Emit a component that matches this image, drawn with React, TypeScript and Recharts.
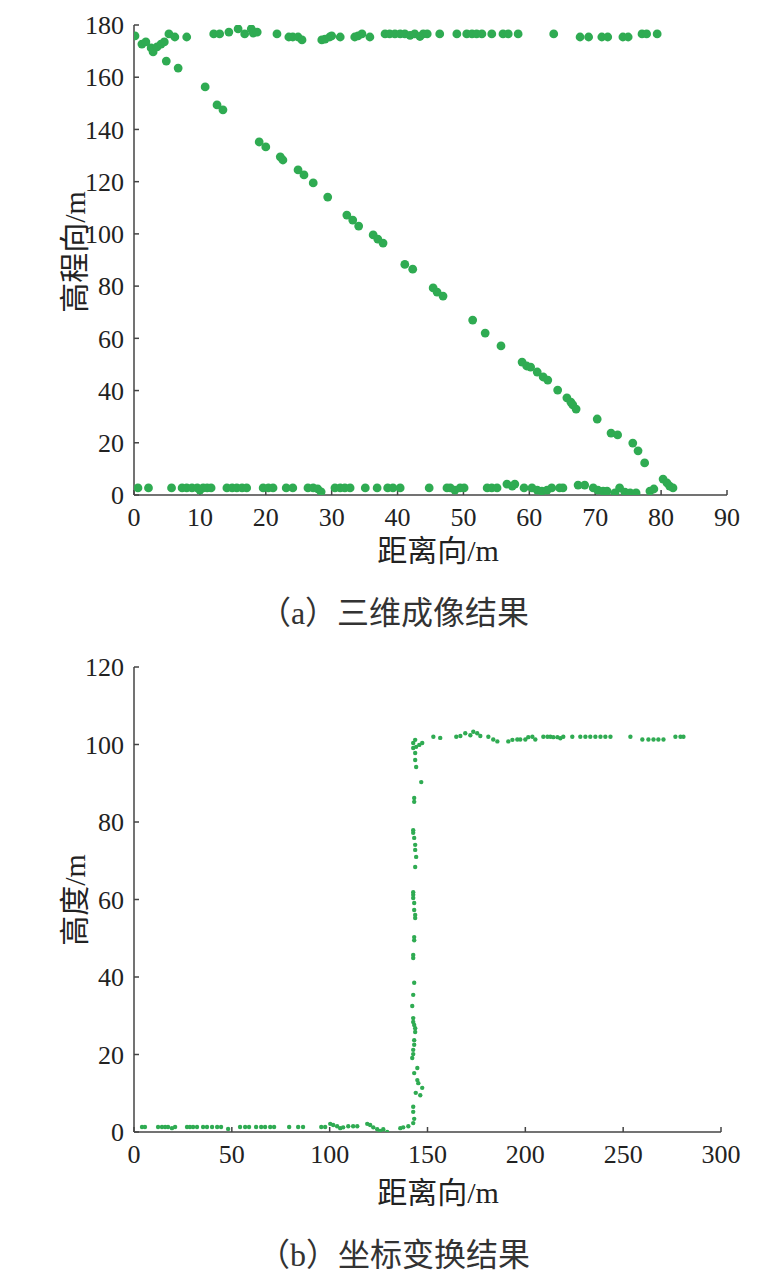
import { ScatterChart, Scatter, XAxis, YAxis } from 'recharts';

// (a) 3D imaging result: [range m, elevation m]
const roofA: [number, number][] = [
  [0.15, 175.8], [1.2, 172.7], [1.8, 173.5], [2.6, 171.2], [2.9, 169.7], [3.5, 171.6], [4.1, 172.7], [4.6, 173.5],
  [5.3, 176.6], [6.2, 175.4], [8.0, 175.4], [12.1, 176.6], [13.0, 176.6], [14.4, 177.3], [15.8, 178.5], [16.8, 176.6],
  [17.8, 178.5], [18.1, 176.9], [18.7, 177.3], [21.7, 176.6], [23.5, 175.4], [24.1, 175.4], [24.9, 175.4], [25.5, 174.3],
  [28.5, 174.3], [29.0, 174.6], [29.7, 175.4], [30.0, 175.8], [31.3, 175.4], [33.5, 175.4], [34.0, 175.8], [34.6, 176.6],
  [35.8, 175.4], [38.1, 176.6], [38.8, 176.6], [39.6, 176.6], [40.4, 176.6], [41.1, 176.6], [41.9, 176.0], [42.6, 176.6],
  [43.4, 175.6], [43.9, 176.6], [44.5, 176.6], [46.4, 176.6], [49.0, 176.6], [50.5, 176.6], [51.3, 176.6], [52.0, 176.6],
  [52.8, 176.6], [54.3, 176.6], [56.0, 176.6], [56.8, 176.6], [58.3, 176.6], [63.7, 176.6], [67.7, 175.4], [69.0, 175.4],
  [71.0, 175.4], [71.9, 175.4], [74.2, 175.4], [75.0, 175.4], [77.1, 176.6], [77.8, 176.6], [79.4, 176.6],
];
const slopeA: [number, number][] = [
  [4.9, 166.2], [6.7, 163.5], [10.8, 156.3], [12.6, 149.4], [13.5, 147.5], [19.0, 135.2], [20.0, 133.3], [22.2, 129.5],
  [22.6, 128.3], [24.9, 124.5], [25.8, 122.6], [27.2, 119.5], [29.4, 114.1], [32.3, 107.2], [33.2, 105.3], [34.1, 103.0],
  [36.3, 99.6], [37.0, 98.0], [37.8, 96.5], [41.1, 88.3], [42.3, 86.5], [45.4, 79.3], [46.0, 77.7], [46.9, 76.2],
  [51.4, 67.0], [53.3, 62.0], [55.7, 57.1], [58.9, 50.9], [59.6, 49.4], [60.2, 49.0], [61.2, 47.1], [62.1, 45.2],
  [62.8, 44.0], [64.3, 40.2], [65.7, 37.2], [66.3, 35.6], [66.6, 34.5], [67.1, 32.9], [70.3, 29.1], [72.4, 23.7],
  [73.4, 23.0], [75.7, 19.9], [76.5, 16.9], [77.5, 12.3], [80.3, 6.1], [80.9, 4.6],
];
const groundA: [number, number][] = [
  [0.6, 2.7], [2.2, 2.7], [5.7, 2.7], [7.3, 2.7], [8.0, 2.7], [8.8, 2.7], [9.6, 2.7], [10.0, 1.9], [10.5, 2.7], [11.1, 2.7],
  [11.7, 2.7], [14.1, 2.7], [14.9, 2.7], [15.6, 2.7], [16.4, 2.7], [17.1, 2.7], [19.6, 2.7], [20.4, 2.7], [21.1, 2.7],
  [23.1, 2.7], [24.1, 2.7], [26.4, 2.7], [27.2, 2.7], [27.9, 2.3], [28.4, 1.2], [30.5, 2.7], [31.3, 2.7], [32.0, 2.7],
  [32.8, 2.7], [35.1, 2.7], [36.9, 2.7], [38.5, 2.7], [39.3, 2.7], [40.4, 2.7], [44.8, 2.7], [47.5, 2.7], [48.0, 2.7],
  [48.7, 1.9], [49.5, 2.7], [50.1, 2.7], [53.6, 2.7], [54.3, 2.7], [55.1, 2.7], [56.6, 4.2], [57.4, 3.4], [57.8, 4.2],
  [59.2, 2.7], [60.4, 2.7], [61.2, 1.9], [61.9, 1.5], [62.7, 1.9], [63.4, 2.7], [64.6, 2.7], [65.1, 2.7], [67.4, 3.8],
  [68.4, 3.8], [69.7, 2.7], [70.4, 1.9], [71.2, 1.5], [71.8, 1.5], [73.0, 0.8], [73.7, 2.7], [74.5, 1.1], [75.3, 0.8],
  [76.2, 0.8], [78.3, 1.5], [78.9, 2.3], [81.3, 3.4], [81.8, 2.7],
];

// (b) after coordinate transform: [range m, height m]
const groundB: [number, number][] = [
  [4.1, 1.3], [5.6, 1.3], [12.3, 1.3], [14.3, 1.3], [15.9, 1.3], [17.4, 1.3], [19.4, 1.0], [21.0, 1.3], [27.1, 1.3],
  [28.6, 1.3], [30.2, 1.3], [32.2, 1.3], [35.3, 1.3], [37.3, 1.3], [39.9, 1.3], [42.5, 1.3], [44.5, 1.3], [48.1, 0.8],
  [54.2, 1.3], [56.8, 1.3], [58.8, 1.3], [62.4, 1.3], [65.0, 1.3], [67.0, 1.3], [69.6, 1.3], [71.6, 1.3], [79.3, 1.3],
  [83.9, 1.3], [86.4, 1.3], [95.7, 1.3], [97.7, 1.3], [100.3, 2.1], [101.8, 1.8], [103.8, 1.5], [105.4, 1.0], [106.9, 1.2],
  [109.5, 1.5], [112.0, 1.5], [114.1, 1.5], [119.2, 2.1], [120.7, 1.8], [122.3, 1.2], [124.3, 0.7], [125.8, 0.3],
  [127.4, 0.7], [129.4, 0.0], [136.1, 1.0], [137.6, 1.2], [140.2, 1.5], [142.7, 2.3], [143.2, 3.4],
];
const wallB: [number, number][] = [
  [142.7, 5.2], [142.7, 6.5], [146.3, 9.5], [144.0, 10.1], [147.3, 11.4], [145.3, 12.6], [144.8, 13.4], [143.2, 15.2],
  [144.8, 16.5], [142.2, 19.1], [142.7, 20.1], [142.7, 21.2], [143.2, 22.5], [143.2, 23.7], [143.7, 25.8], [143.7, 26.8],
  [143.2, 27.6], [142.7, 28.4], [142.7, 29.4], [142.2, 32.5], [142.7, 35.4], [143.2, 38.5], [142.7, 44.9], [142.7, 45.7],
  [143.2, 49.5], [143.2, 50.3], [143.7, 55.2], [143.7, 56.0], [143.2, 57.3], [143.2, 59.1], [142.7, 60.4], [142.7, 61.2],
  [142.7, 61.9], [143.7, 68.4], [144.2, 71.0], [143.7, 72.8], [143.7, 74.1], [143.2, 75.9], [142.7, 77.2], [142.7, 77.9],
  [143.2, 85.2], [143.2, 86.2], [146.8, 90.3], [144.2, 94.2], [143.7, 96.0], [143.7, 97.8], [142.7, 99.1], [144.2, 99.4],
  [145.8, 99.9], [147.3, 100.4], [142.7, 100.4], [143.7, 101.2],
];
const roofB: [number, number][] = [
  [153.0, 102.0], [156.5, 101.7], [164.7, 102.0], [166.8, 102.2], [169.3, 102.9], [171.9, 102.4], [173.4, 103.3],
  [175.4, 102.9], [177.0, 102.2], [181.1, 102.0], [183.6, 101.3], [185.7, 100.8], [191.3, 100.8], [193.4, 101.2],
  [195.9, 101.3], [197.4, 101.3], [200.0, 101.3], [201.5, 101.9], [203.6, 102.0], [205.1, 101.3], [209.2, 102.0],
  [211.3, 102.0], [212.8, 102.0], [214.3, 101.9], [216.4, 101.9], [217.9, 101.6], [219.4, 102.0], [224.0, 102.0],
  [228.1, 102.0], [230.7, 102.0], [233.2, 102.0], [235.8, 102.0], [238.4, 102.0], [240.9, 102.0], [243.5, 102.0],
  [253.7, 102.0], [259.8, 101.3], [262.9, 101.3], [265.5, 101.3], [268.0, 101.3], [270.6, 101.3], [276.7, 102.0],
  [279.3, 102.0], [280.8, 102.0],
];

const ticksXA = [0, 10, 20, 30, 40, 50, 60, 70, 80, 90];
const ticksYA = [0, 20, 40, 60, 80, 100, 120, 140, 160, 180];
const ticksXB = [0, 50, 100, 150, 200, 250, 300];
const ticksYB = [0, 20, 40, 60, 80, 100, 120];

const GREEN = '#2fab52';
const AXIS = '#444';
const FONT = '"Liberation Serif", "Noto Sans CJK SC", serif';

const toPts = (arr: [number, number][]) => arr.map(([x, y]) => ({ x, y }));

const dot = (r: number) => (p: any) => <circle cx={p.cx} cy={p.cy} r={r} fill={GREEN} />;

const tickStyle = { fill: '#222', fontSize: 26, fontFamily: FONT };

function Panel(props: {
  top: number;
  margin: { top: number; right: number; bottom: number; left: number };
  xDomain: [number, number];
  yDomain: [number, number];
  xTicks: number[];
  yTicks: number[];
  groups: [number, number][][];
  r: number;
  yLabel: string;
  yLabelTop: number;
  xLabelTop: number;
  caption: string;
  captionTop: number;
}) {
  return (
    <>
      <div style={{ position: 'absolute', left: 0, top: props.top }}>
        <ScatterChart width={757} height={540} margin={props.margin}>
          <XAxis
            type="number"
            dataKey="x"
            domain={props.xDomain}
            ticks={props.xTicks}
            allowDataOverflow
            height={40}
            tickSize={-5}
            tickMargin={18}
            tick={tickStyle}
            stroke={AXIS}
            strokeWidth={1.5}
          />
          <YAxis
            type="number"
            dataKey="y"
            domain={props.yDomain}
            ticks={props.yTicks}
            allowDataOverflow
            width={126}
            tickSize={-5}
            tickMargin={15}
            tick={tickStyle}
            stroke={AXIS}
            strokeWidth={1.5}
          />
          {props.groups.map((g, i) => (
            <Scatter key={i} data={toPts(g)} shape={dot(props.r)} isAnimationActive={false} />
          ))}
        </ScatterChart>
      </div>
      <div
        style={{
          position: 'absolute',
          left: 64,
          top: props.yLabelTop,
          transform: 'translate(-50%, -50%) rotate(-90deg)',
          fontFamily: FONT,
          fontSize: 30,
          color: '#222',
          whiteSpace: 'nowrap',
        }}
      >
        {props.yLabel}
      </div>
      <div
        style={{
          position: 'absolute',
          left: 430,
          top: props.xLabelTop,
          transform: 'translate(-50%, -50%)',
          fontFamily: FONT,
          fontSize: 30,
          color: '#222',
          whiteSpace: 'nowrap',
        }}
      >
        距离向/m
      </div>
      <div
        style={{
          position: 'absolute',
          left: 386,
          top: props.captionTop,
          transform: 'translate(-50%, -50%)',
          fontFamily: FONT,
          fontSize: 32,
          color: '#333',
          whiteSpace: 'nowrap',
        }}
      >
        {props.caption}
      </div>
    </>
  );
}

export default function App() {
  return (
    <div style={{ position: 'relative', width: 757, height: 1270, background: '#fff' }}>
      <Panel
        top={0}
        margin={{ top: 17, right: 38, bottom: 13, left: 0 }}
        xDomain={[0, 90]}
        yDomain={[0, 180]}
        xTicks={ticksXA}
        yTicks={ticksYA}
        groups={[roofA, slopeA, groundA]}
        r={4.4}
        yLabel="高程向/m"
        yLabelTop={244}
        xLabelTop={540}
        caption="（a）三维成像结果"
        captionTop={602}
      />
      <Panel
        top={632}
        margin={{ top: 27, right: 44, bottom: 8, left: 0 }}
        xDomain={[0, 300]}
        yDomain={[0, 120]}
        xTicks={ticksXB}
        yTicks={ticksYB}
        groups={[groundB, wallB, roofB]}
        r={2.2}
        yLabel="高度/m"
        yLabelTop={892}
        xLabelTop={1182}
        caption="（b）坐标变换结果"
        captionTop={1244}
      />
    </div>
  );
}
